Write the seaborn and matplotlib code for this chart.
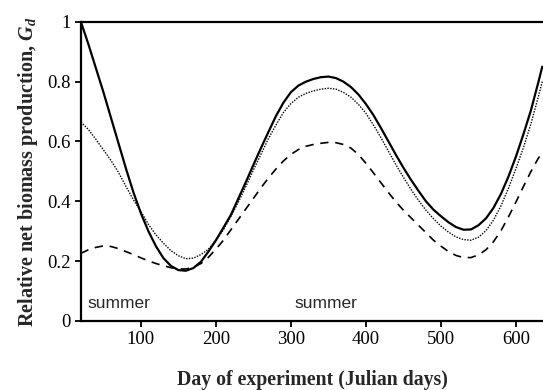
import numpy as np
import pandas as pd
import matplotlib
matplotlib.use("Agg")
import matplotlib.pyplot as plt
import seaborn as sns

days = [20, 30, 40, 50, 60, 70, 80, 90, 100, 110, 120, 130, 140, 150, 160, 170,
        180, 190, 200, 210, 220, 230, 240, 250, 260, 270, 280, 290, 300, 310, 320,
        330, 340, 350, 360, 370, 380, 390, 400, 410, 420, 430, 440, 450, 460, 470,
        480, 490, 500, 510, 520, 530, 540, 550, 560, 570, 580, 590, 600, 610, 620,
        630, 635]

solid = [1.00, 0.925, 0.845, 0.765, 0.68, 0.595, 0.51, 0.43, 0.36, 0.30, 0.25, 0.21,
         0.184, 0.17, 0.168, 0.177, 0.198, 0.232, 0.27, 0.312, 0.355, 0.41, 0.465,
         0.522, 0.578, 0.632, 0.685, 0.73, 0.765, 0.787, 0.80, 0.809, 0.815, 0.817,
         0.812, 0.80, 0.782, 0.757, 0.725, 0.688, 0.645, 0.60, 0.555, 0.512, 0.472,
         0.435, 0.40, 0.372, 0.35, 0.33, 0.314, 0.305, 0.306, 0.32, 0.343, 0.378,
         0.425, 0.483, 0.55, 0.625, 0.705, 0.80, 0.85]

dotted = [0.665, 0.64, 0.607, 0.572, 0.537, 0.497, 0.45, 0.405, 0.366, 0.323, 0.288,
          0.26, 0.235, 0.218, 0.208, 0.21, 0.222, 0.24, 0.27, 0.305, 0.35, 0.398, 0.45,
          0.505, 0.557, 0.61, 0.655, 0.697, 0.727, 0.748, 0.761, 0.769, 0.775, 0.778,
          0.775, 0.764, 0.748, 0.724, 0.694, 0.655, 0.613, 0.567, 0.522, 0.48, 0.44,
          0.403, 0.37, 0.342, 0.317, 0.297, 0.281, 0.272, 0.27, 0.28, 0.302, 0.337,
          0.385, 0.444, 0.51, 0.58, 0.66, 0.752, 0.80]

dashed = [0.226, 0.238, 0.246, 0.251, 0.249, 0.242, 0.232, 0.222, 0.211, 0.201, 0.192,
          0.185, 0.178, 0.174, 0.174, 0.179, 0.192, 0.213, 0.24, 0.27, 0.305, 0.34,
          0.375, 0.41, 0.445, 0.478, 0.508, 0.535, 0.557, 0.573, 0.584, 0.59, 0.594,
          0.597, 0.596, 0.59, 0.578, 0.556, 0.527, 0.495, 0.462, 0.429, 0.398, 0.37,
          0.345, 0.32, 0.295, 0.27, 0.25, 0.232, 0.219, 0.212, 0.212, 0.221, 0.238,
          0.265, 0.302, 0.348, 0.398, 0.45, 0.50, 0.545, 0.56]

xticks = [100, 200, 300, 400, 500, 600]
yticks = [0, 0.2, 0.4, 0.6, 0.8, 1]
ytick_labels = ["0", "0.2", "0.4", "0.6", "0.8", "1"]

sns.set_style("ticks")
plt.rcParams['font.family'] = ['Liberation Serif', 'DejaVu Serif']
plt.rcParams['mathtext.fontset'] = 'custom'
plt.rcParams['mathtext.it'] = 'Liberation Serif:italic:bold'
plt.rcParams['mathtext.rm'] = 'Liberation Serif:bold'

df = pd.DataFrame({"day": days, "solid": solid, "dotted": dotted, "dashed": dashed})

fig = plt.figure(figsize=(5.43, 3.90), dpi=100)
ax = fig.add_axes([0.149, 0.177, 0.851, 0.767])

sns.lineplot(data=df, x="day", y="solid", ax=ax, color="black", lw=1.6)
sns.lineplot(data=df, x="day", y="dotted", ax=ax, color="black", lw=1.0, linestyle=(0, (1, 1)))
sns.lineplot(data=df, x="day", y="dashed", ax=ax, color="black", lw=1.2, linestyle=(0, (5, 4)))

ax.set_xlim(20, 636)
ax.set_ylim(0, 1)
ax.set_xticks(xticks)
ax.set_yticks(yticks)
ax.set_yticklabels(ytick_labels)
ax.tick_params(axis="both", direction="out", length=4.3, width=1.3, labelsize=13.5,
               colors="black", pad=3)
for s in ["left", "bottom", "top"]:
    ax.spines[s].set_linewidth(1.6)
    ax.spines[s].set_color("black")
ax.spines["right"].set_visible(False)

ax.set_xlabel("Day of experiment (Julian days)", fontsize=14.2, fontweight="bold", labelpad=16)
ax.set_ylabel("Relative net biomass production, $G_d$", fontsize=14.5,
              fontweight="bold", labelpad=5)

ax.text(29, 0.058, "summer", family=["Liberation Sans"], fontsize=12.5, va="center", ha="left")
ax.text(305, 0.058, "summer", family=["Liberation Sans"], fontsize=12.5, va="center", ha="left")

fig.savefig("out.png", dpi=100)
